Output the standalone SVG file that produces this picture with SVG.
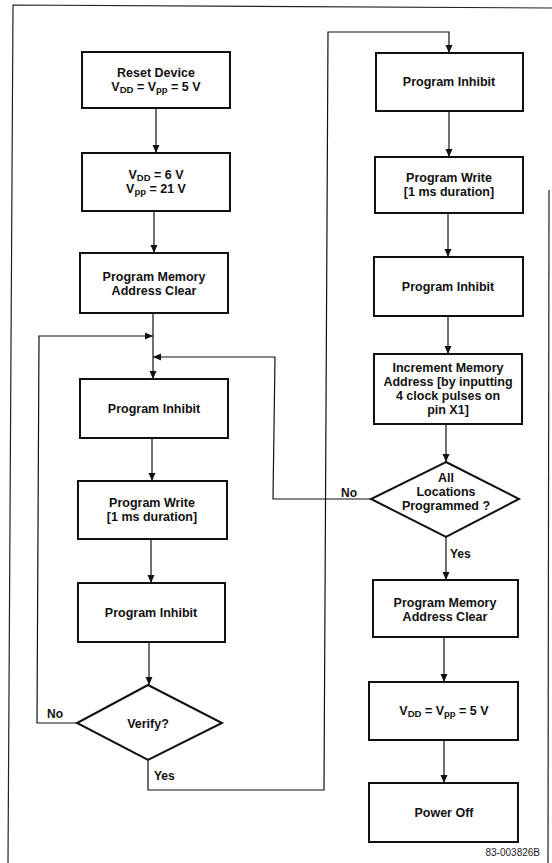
<svg xmlns="http://www.w3.org/2000/svg" width="552" height="863" viewBox="0 0 552 863">
<defs>
<marker id="ah" markerUnits="userSpaceOnUse" markerWidth="8" markerHeight="8" refX="8" refY="3.5" orient="auto">
<path d="M0,0 L8,3.5 L0,7 z" fill="#111"/>
</marker>
<style>
.box{fill:#fff;stroke:#111;stroke-width:2}
.ln{fill:none;stroke:#111;stroke-width:1.2}
.fr{fill:none;stroke:#222;stroke-width:1.2}
.t{font-family:"Liberation Sans",Arial,sans-serif;font-weight:bold;font-size:12.5px;fill:#111;text-anchor:middle}
.lb{font-family:"Liberation Sans",Arial,sans-serif;font-weight:bold;font-size:12px;fill:#111}
.s{font-size:9.5px}
.id{font-family:"Liberation Sans",Arial,sans-serif;font-size:10px;fill:#222;text-anchor:end}
</style>
</defs>
<rect width="552" height="863" fill="#fff"/>
<g id="frame">
<path class="fr" d="M8,863 L13,5 L552,8"/>
<path class="fr" d="M549,190 L548,863"/>
<text class="id" x="540" y="856">83-003826B</text>
</g>
<g id="connectors">
<path class="ln" d="M156,108 V153" marker-end="url(#ah)"/>
<path class="ln" d="M154,211 V253" marker-end="url(#ah)"/>
<path class="ln" d="M153,313 V379" marker-end="url(#ah)"/>
<path class="ln" d="M152,438 V481" marker-end="url(#ah)"/>
<path class="ln" d="M151,539 V583" marker-end="url(#ah)"/>
<path class="ln" d="M149,642 V685" marker-end="url(#ah)"/>
<path class="ln" d="M77,723 H37 L39,336 H153" marker-end="url(#ah)"/>
<path class="ln" d="M148,760 V790 H324 L328,32 H449 V53" marker-end="url(#ah)"/>
<path class="ln" d="M449,111 V157" marker-end="url(#ah)"/>
<path class="ln" d="M448,213 V257" marker-end="url(#ah)"/>
<path class="ln" d="M448,316 V354" marker-end="url(#ah)"/>
<path class="ln" d="M446,424 V462" marker-end="url(#ah)"/>
<path class="ln" d="M371,499 H273 L275,357 H153" marker-end="url(#ah)"/>
<path class="ln" d="M446,537 V580" marker-end="url(#ah)"/>
<path class="ln" d="M444,637 V682" marker-end="url(#ah)"/>
<path class="ln" d="M444,740 V783" marker-end="url(#ah)"/>
<text class="lb" x="47" y="718">No</text>
<text class="lb" x="154" y="780">Yes</text>
<text class="lb" x="341" y="497">No</text>
<text class="lb" x="450" y="558">Yes</text>
</g>
<g id="reset">
<rect class="box" x="82" y="52" width="148" height="56"/>
<text class="t" x="156" y="77">Reset Device</text>
<text class="t" x="156" y="91">V<tspan class="s" dy="2">DD</tspan><tspan dy="-2"> = V</tspan><tspan class="s" dy="2">pp</tspan><tspan dy="-2"> = 5 V</tspan></text>
</g>
<g id="vdd6">
<rect class="box" x="82" y="153" width="148" height="58"/>
<text class="t" x="156" y="179">V<tspan class="s" dy="2">DD</tspan><tspan dy="-2"> = 6 V</tspan></text>
<text class="t" x="156" y="193">V<tspan class="s" dy="2">pp</tspan><tspan dy="-2"> = 21 V</tspan></text>
</g>
<g id="clear1">
<rect class="box" x="80" y="253" width="148" height="60"/>
<text class="t" x="154" y="281">Program Memory</text>
<text class="t" x="154" y="295">Address Clear</text>
</g>
<g id="inhibit1">
<rect class="box" x="80" y="379" width="148" height="59"/>
<text class="t" x="154" y="413">Program Inhibit</text>
</g>
<g id="write1">
<rect class="box" x="78" y="481" width="149" height="58"/>
<text class="t" x="152" y="507">Program Write</text>
<text class="t" x="152" y="521">[1 ms duration]</text>
</g>
<g id="inhibit2">
<rect class="box" x="78" y="583" width="147" height="59"/>
<text class="t" x="151" y="617">Program Inhibit</text>
</g>
<g id="verify">
<polygon class="box" points="148,685 222,723 148,760 77,723"/>
<text class="t" x="148" y="728">Verify?</text>
</g>
<g id="inhibit3">
<rect class="box" x="376" y="53" width="147" height="58"/>
<text class="t" x="449" y="86">Program Inhibit</text>
</g>
<g id="write2">
<rect class="box" x="375" y="157" width="148" height="56"/>
<text class="t" x="449" y="182">Program Write</text>
<text class="t" x="449" y="196">[1 ms duration]</text>
</g>
<g id="inhibit4">
<rect class="box" x="374" y="257" width="149" height="59"/>
<text class="t" x="448" y="291">Program Inhibit</text>
</g>
<g id="increment">
<rect class="box" x="374" y="354" width="148" height="70"/>
<text class="t" x="448" y="372">Increment Memory</text>
<text class="t" x="448" y="386">Address [by inputting</text>
<text class="t" x="448" y="400">4 clock pulses on</text>
<text class="t" x="448" y="414">pin X1]</text>
</g>
<g id="alllocs">
<polygon class="box" points="446,462 519,499 446,537 371,499"/>
<text class="t" x="446" y="482">All</text>
<text class="t" x="446" y="496">Locations</text>
<text class="t" x="446" y="510">Programmed ?</text>
</g>
<g id="clear2">
<rect class="box" x="373" y="580" width="145" height="57"/>
<text class="t" x="445" y="607">Program Memory</text>
<text class="t" x="445" y="621">Address Clear</text>
</g>
<g id="vdd5">
<rect class="box" x="369" y="682" width="149" height="58"/>
<text class="t" x="444" y="715">V<tspan class="s" dy="2">DD</tspan><tspan dy="-2"> = V</tspan><tspan class="s" dy="2">pp</tspan><tspan dy="-2"> = 5 V</tspan></text>
</g>
<g id="poweroff">
<rect class="box" x="369" y="783" width="149" height="59"/>
<text class="t" x="444" y="817">Power Off</text>
</g>
</svg>
